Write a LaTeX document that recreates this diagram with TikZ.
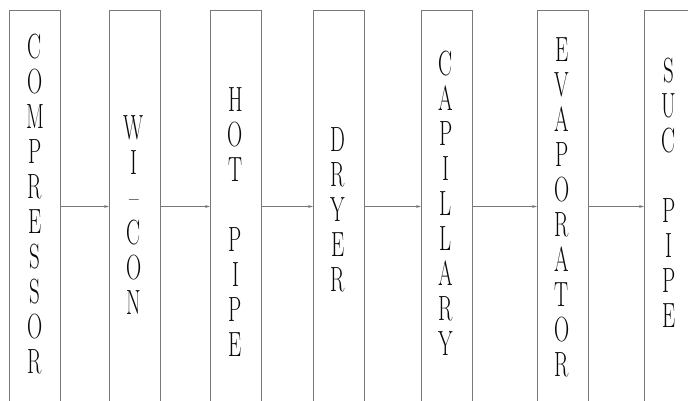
\documentclass[tikz,border=0pt]{standalone}
\usetikzlibrary{arrows.meta}
\definecolor{edge}{RGB}{120,120,120}
\definecolor{ink}{RGB}{10,10,10}
\tikzset{
  box/.style={draw=edge, line width=1pt, minimum width=51pt, minimum height=392pt, inner sep=0pt, anchor=north west},
  lbl/.style={anchor=north, align=center, inner sep=0pt, text=ink, xscale=0.6, transform shape, font=\rmfamily\fontsize{35}{35}\selectfont},
  conn/.style={draw=edge, line width=1.1pt, -{Stealth[length=5pt,width=3pt]}}
}
\begin{document}
\begin{tikzpicture}[x=1pt,y=-1pt]
\clip (0,0) rectangle (688,400);
\fill[white] (0,0) rectangle (688,400);
\node[box] (b1) at (9,10) {};
\node[box] (b2) at (109,10) {};
\node[box] (b3) at (210,10) {};
\node[box] (b4) at (313,10) {};
\node[box] (b5) at (421,10) {};
\node[box] (b6) at (537,10) {};
\node[box] (b7) at (644,10) {};
\node[lbl] (t1) at (35,34) {C\\O\\M\\P\\R\\E\\S\\S\\O\\R};
\node[lbl] (t2) at (134,115) {W\\I\\\textendash\\C\\O\\N};
\node[lbl] (t3) at (235.5,87) {H\\O\\T\\\mbox{}\\P\\I\\P\\E};
\node[lbl] (t4) at (338,127) {D\\R\\Y\\E\\R};
\node[lbl] (t5) at (446,51) {C\\A\\P\\I\\L\\L\\A\\R\\Y};
\node[lbl] (t6) at (562,37) {E\\V\\A\\P\\O\\R\\A\\T\\O\\R};
\node[lbl] (t7) at (669,58) {S\\U\\C\\\mbox{}\\P\\I\\P\\E};
\draw[conn] (b1.east) -- (b2.west);
\draw[conn] (b2.east) -- (b3.west);
\draw[conn] (b3.east) -- (b4.west);
\draw[conn] (b4.east) -- (b5.west);
\draw[conn] (b5.east) -- (b6.west);
\draw[conn] (b6.east) -- (b7.west);
\end{tikzpicture}
\end{document}
